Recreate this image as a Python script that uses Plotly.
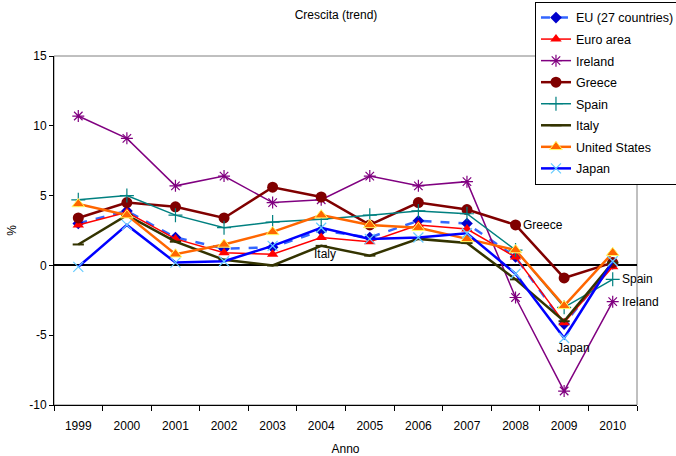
import plotly.graph_objects as go

# Annual growth (trend), percent
years = ["1999", "2000", "2001", "2002", "2003", "2004", "2005", "2006", "2007", "2008", "2009", "2010"]
eu27 = [3.0, 3.9, 2.0, 1.2, 1.3, 2.5, 2.0, 3.2, 3.0, 0.6, -4.2, 0.1]
euro_area = [2.9, 3.8, 1.9, 0.9, 0.8, 2.0, 1.7, 2.9, 2.6, 0.6, -4.1, -0.1]
ireland = [10.7, 9.1, 5.7, 6.4, 4.5, 4.7, 6.4, 5.7, 6.0, -2.3, -9.0, -2.6]
greece = [3.4, 4.5, 4.2, 3.4, 5.6, 4.9, 2.9, 4.5, 4.0, 2.9, -0.9, 0.2]
spain = [4.7, 5.0, 3.6, 2.7, 3.1, 3.3, 3.6, 3.9, 3.7, 1.1, -3.0, -1.0]
italy = [1.5, 3.6, 1.7, 0.4, 0.0, 1.4, 0.7, 1.9, 1.6, -1.0, -4.0, 0.2]
united_states = [4.4, 3.6, 0.8, 1.5, 2.4, 3.6, 2.9, 2.7, 1.9, 1.1, -2.9, 0.9]
japan = [-0.1, 2.9, 0.2, 0.3, 1.4, 2.7, 1.9, 2.0, 2.3, -0.6, -5.2, 0.3]

y_ticks = [-10, -5, 0, 5, 10, 15]

FONT = "Liberation Sans, Arial, sans-serif"

series = [
    ("EU (27 countries)", eu27, dict(color="#3366FF", width=2.5, dash="dash"),
     dict(symbol="diamond", size=9, color="#0000CC")),
    ("Euro area", euro_area, dict(color="#FF0000", width=1.5),
     dict(symbol="triangle-up", size=10, color="#FF0000")),
    ("Ireland", ireland, dict(color="#800080", width=1.5),
     dict(symbol="asterisk-open", size=10, color="#800080", line=dict(color="#800080", width=1.2))),
    ("Greece", greece, dict(color="#800000", width=2.5),
     dict(symbol="circle", size=11, color="#800000")),
    ("Spain", spain, dict(color="#008080", width=1.5),
     dict(symbol="cross-thin-open", size=10, color="#008080", line=dict(color="#008080", width=1.2))),
    ("Italy", italy, dict(color="#333300", width=2.5),
     dict(symbol="line-ew-open", size=8, color="#333300", line=dict(color="#333300", width=2))),
    ("United States", united_states, dict(color="#FF6600", width=2.5),
     dict(symbol="triangle-up", size=11, color="#FF6600", line=dict(color="#FFFF66", width=1))),
    ("Japan", japan, dict(color="#0000FF", width=2.5),
     dict(symbol="x-thin-open", size=10, color="#66CCFF", line=dict(color="#66CCFF", width=1.2))),
]

fig = go.Figure()
for name, values, line, marker in series:
    fig.add_trace(go.Scatter(x=years, y=values, name=name, legendgroup=name,
                             mode="lines+markers", line=line, marker=marker))

# series labels placed next to selected points (x given as category index)
labels = [
    ("Greece", years.index("2008"), greece[9], "left", 5, 0),
    ("Italy", years.index("2004"), italy[5], "center", 4, -8),
    ("Spain", years.index("2010"), spain[11], "left", 7, 0),
    ("Ireland", years.index("2010"), ireland[11], "left", 7, 0),
    ("Japan", years.index("2009"), japan[10], "center", 9, -10),
]
for text, xi, yv, anchor, dx, dy in labels:
    fig.add_annotation(x=xi, y=yv, text=text, showarrow=False, xanchor=anchor, yanchor="middle",
                       xshift=dx, yshift=dy, font=dict(family=FONT, size=12, color="#000000"))

# grey plot-area frame
fig.add_shape(type="rect", xref="paper", yref="paper", x0=0, y0=0, x1=1, y1=1,
              line=dict(color="#808080", width=1), layer="below")

fig.update_layout(
    width=676, height=456,
    margin=dict(l=54, r=39, t=56, b=51, autoexpand=False),
    paper_bgcolor="white", plot_bgcolor="white",
    font=dict(family=FONT, size=12, color="#000000"),
    title=dict(text="Crescita (trend)", x=0.497, xanchor="center", y=0.967, yanchor="middle",
               font=dict(family=FONT, size=12)),
    legend=dict(x=0.825, y=1.155, xanchor="left", yanchor="top",
                bgcolor="white", bordercolor="#000000", borderwidth=1,
                font=dict(family=FONT, size=12.5), tracegroupgap=2.3),
    showlegend=True,
)
fig.update_xaxes(type="category", range=[-0.5, 11.5], tickson="boundaries",
                 showline=True, linecolor="#000000", linewidth=1,
                 ticks="outside", ticklen=5, tickcolor="#000000", ticklabelstandoff=10,
                 showgrid=False, zeroline=False, automargin=False,
                 title=dict(text="Anno", font=dict(family=FONT, size=12), standoff=14))
fig.update_yaxes(range=[-10, 15], tickvals=y_ticks, ticktext=[str(v) for v in y_ticks],
                 showline=True, linecolor="#000000", linewidth=1,
                 ticks="outside", ticklen=4, tickcolor="#000000",
                 showgrid=False, zeroline=True, zerolinecolor="#000000", zerolinewidth=1.5,
                 automargin=False,
                 title=dict(text="%", font=dict(family=FONT, size=12), standoff=10))

fig.write_html("out.html")
